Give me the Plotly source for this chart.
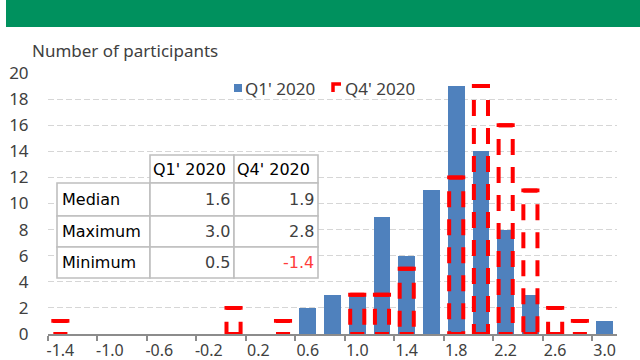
import plotly.graph_objects as go

# ---- data ----
categories = [-1.4, -1.2, -1.0, -0.8, -0.6, -0.4, -0.2, 0.0, 0.2, 0.4, 0.6, 0.8,
              1.0, 1.2, 1.4, 1.6, 1.8, 2.0, 2.2, 2.4, 2.6, 2.8, 3.0]
q1_2020 = [0, 0, 0, 0, 0, 0, 0, 0, 0, 0, 2, 3, 3, 9, 6, 11, 19, 14, 8, 3, 0, 0, 1]
q4_2020 = [1, 0, 0, 0, 0, 0, 0, 2, 0, 1, 0, 0, 3, 3, 5, 0, 12, 19, 16, 11, 2, 1, 0]
series_names = ["Q1' 2020", "Q4' 2020"]
x_tick_vals = [-1.4, -1.0, -0.6, -0.2, 0.2, 0.6, 1.0, 1.4, 1.8, 2.2, 2.6, 3.0]
x_tick_text = ["-1.4", "-1.0", "-0.6", "-0.2", "0.2", "0.6", "1.0", "1.4", "1.8", "2.2", "2.6", "3.0"]
x_tick_marks = [-1.5, -1.1, -0.7, -0.3, 0.1, 0.5, 0.9, 1.3, 1.7, 2.1, 2.5, 2.9]
table_rows = ["Median", "Maximum", "Minimum"]
table_q1 = ["1.6", "3.0", "0.5"]
table_q4 = ["1.9", "2.8", "-1.4"]
y_title = "Number of participants"

# ---- layout geometry (pixels) ----
W, H = 640, 360
L, R, T, B = 48, 23, 73, 26
PW, PH = W - L - R, H - T - B


def px(x):
    return (x - L) / PW


def py(y):
    return (H - B - y) / PH


BLUE = "#4F81BD"
RED = "#FF0000"
TXT = "#404040"
FONT = "Noto Sans"
TFONT = "DejaVu Sans"

fig = go.Figure()

fig.add_trace(go.Bar(
    x=categories, y=q1_2020, width=0.135, name=series_names[0], showlegend=False,
    marker=dict(color=BLUE, line=dict(width=0)),
))

# dashed outlines for Q4 bars (two halves from the top corners + bottom edge)
hw = 0.057
xs, ys = [], []
for c, v in zip(categories, q4_2020):
    if v > 0:
        xl, xr = c - hw, c + hw
        xs += [xl, xr, xr, None, xr, xl, xl, None, xl, xr, None]
        ys += [v, v, 0, None, v, v, 0, None, 0, 0, None]
fig.add_trace(go.Scatter(
    x=xs, y=ys, mode="lines", name=series_names[1], showlegend=False, hoverinfo="skip",
    line=dict(color=RED, width=4, dash="16px,12px", simplify=False),
))

shapes = []
# green banner
shapes.append(dict(type="rect", xref="paper", yref="paper",
                   x0=px(6), x1=px(640), y0=py(27), y1=py(0),
                   fillcolor="#00915E", line=dict(width=0), layer="above"))

# legend (manual)
shapes.append(dict(type="rect", xref="paper", yref="paper",
                   x0=px(234), x1=px(242), y0=py(92), y1=py(84),
                   fillcolor=BLUE, line=dict(width=0), layer="above"))
shapes.append(dict(type="path", xref="paper", yref="paper",
                   path="M %f,%f L %f,%f L %f,%f" % (px(333), py(92), px(333), py(84), px(341), py(84)),
                   line=dict(color=RED, width=3.5), layer="above"))
legend_text_x = [243, 343]

# table
border = dict(color="#BFBFBF", width=1.6)
cells = []
cells.append((150, 234, 155, 183))
cells.append((234, 318, 155, 183))
row_y = [(183, 216), (216, 247), (247, 278)]
cols = [(57, 150), (150, 234), (234, 318)]
for (y0, y1) in row_y:
    for (x0, x1) in cols:
        cells.append((x0, x1, y0, y1))
for (x0, x1, y0, y1) in cells:
    shapes.append(dict(type="rect", xref="paper", yref="paper",
                       x0=px(x0), x1=px(x1), y0=py(y1), y1=py(y0),
                       fillcolor="white", line=border, layer="above"))

annotations = []
annotations.append(dict(text=y_title, xref="paper", yref="paper",
                        x=px(30), y=py(51), xanchor="left", yanchor="middle",
                        showarrow=False, font=dict(family=FONT, size=17, color=TXT)))
for i, name in enumerate(series_names):
    annotations.append(dict(text=name, xref="paper", yref="paper",
                            x=px(legend_text_x[i]), y=py(88), xanchor="left", yanchor="middle",
                            showarrow=False, font=dict(family=FONT, size=17, color=TXT)))
    annotations.append(dict(text=name, xref="paper", yref="paper",
                            x=px(cols[i + 1][0] + 1), y=py(169), xanchor="left", yanchor="middle",
                            showarrow=False, font=dict(family=TFONT, size=16, color="black")))
for r, (lab, a, b) in enumerate(zip(table_rows, table_q1, table_q4)):
    yc = (row_y[r][0] + row_y[r][1]) / 2
    annotations.append(dict(text=lab, xref="paper", yref="paper", x=px(60), y=py(yc),
                            xanchor="left", yanchor="middle", showarrow=False,
                            font=dict(family=TFONT, size=16, color="black")))
    annotations.append(dict(text=a, xref="paper", yref="paper", x=px(cols[1][1] - 2), y=py(yc),
                            xanchor="right", yanchor="middle", showarrow=False,
                            font=dict(family=TFONT, size=16, color=TXT)))
    col = "#FF3B3B" if b.startswith("-") else TXT
    annotations.append(dict(text=b, xref="paper", yref="paper", x=px(cols[2][1] - 2), y=py(yc),
                            xanchor="right", yanchor="middle", showarrow=False,
                            font=dict(family=TFONT, size=16, color=col)))

fig.update_layout(
    width=W, height=H,
    margin=dict(l=L, r=R, t=T, b=B, pad=0, autoexpand=False),
    paper_bgcolor="white", plot_bgcolor="white",
    barmode="overlay", bargap=0,
    font=dict(family=FONT, size=17, color=TXT),
    showlegend=False,
    shapes=shapes, annotations=annotations,
    xaxis=dict(range=[-1.5, 3.1], tickmode="array", tickvals=x_tick_vals, ticktext=x_tick_text,
               showgrid=False, zeroline=False, showline=True, linecolor="#8C8C8C", linewidth=1.5,
               ticks="outside", ticklen=1, tickcolor="rgba(0,0,0,0)", automargin=False,
               minor=dict(tickmode="array", tickvals=x_tick_marks, ticks="outside", ticklen=5,
                          tickwidth=1.5, tickcolor="#8C8C8C", showgrid=False),
               tickfont=dict(family=FONT, size=16, color=TXT), fixedrange=True),
    yaxis=dict(range=[0, 20], dtick=2, showgrid=True, gridcolor="#D6D6D6", gridwidth=1,
               griddash="6px,3px", zeroline=False, showline=False, automargin=False,
               ticks="outside", ticklen=15, tickcolor="rgba(0,0,0,0)",
               tickfont=dict(family=FONT, size=17, color=TXT), fixedrange=True),
)

fig.write_html("out.html", config={"displayModeBar": False},
               post_script="document.body.style.margin='0px';")
